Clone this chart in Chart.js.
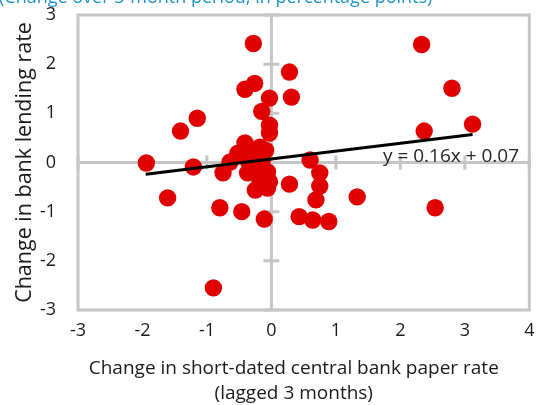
<!DOCTYPE html>
<html>
<head>
<meta charset="utf-8">
<script src="https://cdn.jsdelivr.net/npm/chart.js@4"></script>
<style>
  html, body { margin: 0; padding: 0; background: #ffffff; }
  #wrap { width: 538px; height: 405px; position: relative; overflow: hidden; }
</style>
</head>
<body>
<div id="wrap"><canvas id="c" width="538" height="405"></canvas></div>
<script>
const chartTitle = "(Change over 3-month period, in percentage points)";
const xAxisTitle = ["Change in short-dated central bank paper rate", "(lagged 3 months)"];
const yAxisTitle = "Change in bank lending rate";
const trendLabel = "y = 0.16x + 0.07";

const xTickLabels = ["-3", "-2", "-1", "0", "1", "2", "3", "4"];
const yTickLabels = ["-3", "-2", "-1", "0", "1", "2", "3"];

const pointX = [
  -0.41, -0.18, -0.52, -0.29, -0.09, -0.64, -0.37, -0.14, -0.25, -0.75,
  -0.37, -0.06, -0.18, -0.03, -0.25, -0.06, 0.28,
  -0.28, 0.28, -0.26, -0.41, 0.31, -0.03, -0.15, -0.03, -0.03,
  -1.15, -1.41, -1.94, -1.21, -1.61, -0.90, -0.80, -0.46, -0.11,
  0.60, 0.75, 0.75, 0.69, 1.33, 0.43, 0.64, 0.89,
  2.33, 2.80, 2.37, 3.12, 2.54
];
const pointY = [
  0.40, 0.31, 0.19, 0.21, 0.25, 0.01, 0.05, 0.05, -0.11, -0.21,
  -0.21, -0.19, -0.35, -0.39, -0.56, -0.52, -0.44,
  2.42, 1.84, 1.61, 1.49, 1.33, 1.31, 1.04, 0.76, 0.60,
  0.90, 0.64, -0.01, -0.09, -0.72, -2.55, -0.92, -1.00, -1.15,
  0.05, -0.21, -0.48, -0.76, -0.70, -1.10, -1.17, -1.20,
  2.40, 1.51, 0.64, 0.78, -0.92
];

const trendX = [-1.95, 3.12];
const trendY = [-0.24, 0.57];

const FONT = "'Open Sans', 'Noto Sans', sans-serif";
const TEXT = "#1a1a1a";
const GRAY = "#c6c6c6";
const RED = "#e00000";

const scatterData = pointX.map((x, i) => ({ x: x, y: pointY[i] }));
const trendData = trendX.map((x, i) => ({ x: x, y: trendY[i] }));

const framePlugin = {
  id: 'frameAxes',
  beforeDatasetsDraw(chart) {
    const { ctx, chartArea: a, scales: { x, y } } = chart;
    ctx.save();
    ctx.strokeStyle = GRAY;
    ctx.lineWidth = 3;
    ctx.strokeRect(a.left, a.top, a.right - a.left, a.bottom - a.top);
    const x0 = x.getPixelForValue(0);
    const y0 = y.getPixelForValue(0);
    ctx.beginPath();
    ctx.moveTo(x0, a.top); ctx.lineTo(x0, a.bottom);
    ctx.moveTo(a.left, y0); ctx.lineTo(a.right, y0);
    x.ticks.forEach(t => {
      const px = x.getPixelForValue(t.value);
      ctx.moveTo(px, y0 - 7); ctx.lineTo(px, y0 + 7);
    });
    y.ticks.forEach(t => {
      const py = y.getPixelForValue(t.value);
      ctx.moveTo(x0 - 8, py); ctx.lineTo(x0 + 8, py);
    });
    ctx.stroke();
    ctx.restore();
  },
  afterDraw(chart) {
    const { ctx, scales: { x, y } } = chart;
    ctx.save();
    ctx.fillStyle = "#1f93cc";
    ctx.font = "18px " + FONT;
    ctx.textAlign = 'left';
    ctx.textBaseline = 'middle';
    ctx.fillText(chartTitle, -1, -2);
    ctx.fillStyle = "#262626";
    ctx.font = "19px " + FONT;
    ctx.fillText(trendLabel, x.getPixelForValue(1.73), y.getPixelForValue(0.11));
    ctx.restore();
  }
};

new Chart(document.getElementById('c'), {
  data: {
    datasets: [
      {
        type: 'line',
        data: trendData,
        borderColor: '#000000',
        borderWidth: 3,
        pointRadius: 0,
        fill: false,
        order: 0
      },
      {
        type: 'scatter',
        data: scatterData,
        pointStyle: 'circle',
        pointRadius: 8.7,
        backgroundColor: RED,
        borderColor: RED,
        borderWidth: 0,
        order: 1
      }
    ]
  },
  options: {
    responsive: false,
    devicePixelRatio: 1,
    animation: false,
    events: [],
    layout: { padding: { top: 15, right: 3, left: 0, bottom: 0 } },
    plugins: { legend: { display: false }, tooltip: { enabled: false }, title: { display: false } },
    scales: {
      x: {
        type: 'linear',
        min: -3, max: 4,
        grid: { display: false, drawTicks: false },
        border: { display: false },
        ticks: {
          stepSize: 1,
          padding: 10,
          color: TEXT,
          font: { family: FONT, size: 18 },
          callback: (v) => xTickLabels[Math.round(v) + 3]
        },
        title: {
          display: true,
          text: xAxisTitle.map(s => s + "\u00a0\u00a0\u00a0\u00a0"),
          color: TEXT,
          font: { family: FONT, size: 19, lineHeight: '25px' },
          padding: { top: 0, bottom: -1 }
        },
        afterFit(s) { s.height = 95; s.paddingLeft = 0; s.paddingRight = 0; }
      },
      y: {
        type: 'linear',
        min: -3, max: 3,
        grid: { display: false, drawTicks: false },
        border: { display: false },
        ticks: {
          stepSize: 1,
          padding: 22,
          color: TEXT,
          font: { family: FONT, size: 18 },
          callback: (v) => yTickLabels[Math.round(v) + 3]
        },
        title: {
          display: true,
          text: yAxisTitle,
          color: TEXT,
          font: { family: FONT, size: 21.5 },
          padding: { top: 12, bottom: 0 }
        },
        afterFit(s) { s.width = 78; s.paddingTop = 0; s.paddingBottom = 0; }
      }
    }
  },
  plugins: [framePlugin]
});
</script>
</body>
</html>
